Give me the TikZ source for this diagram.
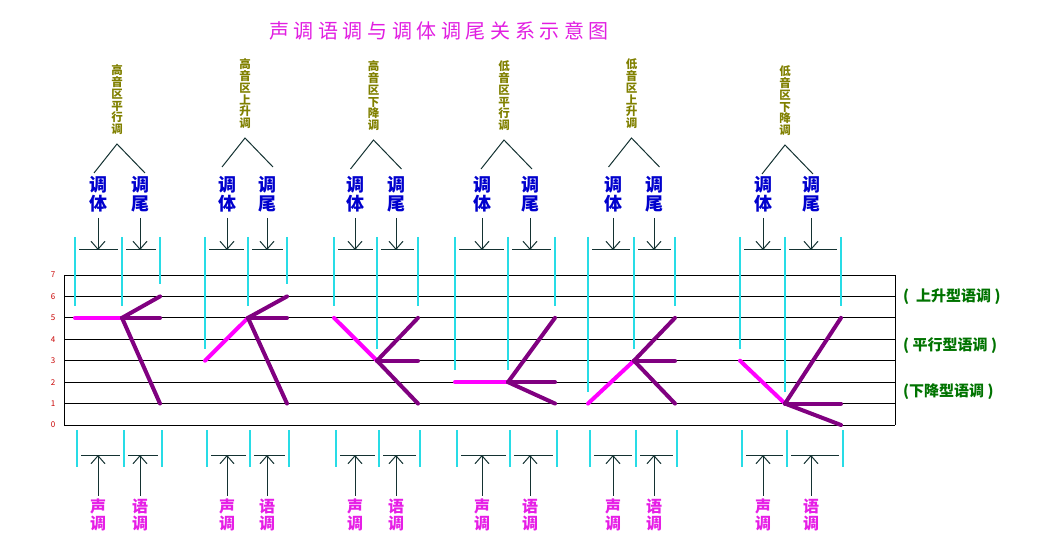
\documentclass[tikz,border=0pt]{standalone}
\usepackage{fontspec}
\setmainfont{Noto Sans CJK SC}
\usetikzlibrary{arrows.meta,positioning}
\definecolor{titlemag}{RGB}{225,30,225}
\definecolor{nameolive}{RGB}{128,128,0}
\definecolor{partblue}{RGB}{0,0,205}
\definecolor{tonemag}{RGB}{230,30,230}
\definecolor{typegreen}{RGB}{0,115,0}
\definecolor{levelred}{RGB}{200,0,0}
\definecolor{guidecyan}{RGB}{40,220,230}
\definecolor{darkslate}{RGB}{20,50,50}
\definecolor{tonepink}{RGB}{255,0,255}
\definecolor{tonepurple}{RGB}{128,0,128}

\begin{document}
\begin{tikzpicture}[x=1pt, y=-1pt,
        grid line/.style={draw=black, line width=0.9pt},
        guide line/.style={draw=guidecyan, line width=1.1pt},
        base line/.style={draw=darkslate, line width=1pt},
        pointer/.style={draw=darkslate, line width=1pt, -{Straight Barb[length=8pt,width=14pt]}},
        body tone/.style={draw=tonepink, line width=4pt, line cap=round},
        tail tone/.style={draw=tonepurple, line width=4pt, line cap=round},
        name label/.style={text=nameolive, font=\bfseries\fontsize{11.5}{11.8}\selectfont, align=center, inner sep=0pt},
        part label/.style={text=partblue, font=\bfseries\fontsize{18}{19}\selectfont, align=center, inner sep=0pt, outer sep=6pt},
        tone label/.style={text=tonemag, font=\bfseries\fontsize{16}{17}\selectfont, align=center, inner sep=0pt, outer sep=3pt},
        type label/.style={text=typegreen, font=\bfseries\fontsize{15}{15}\selectfont, anchor=west, inner sep=0pt},
        level label/.style={text=levelred, font=\fontsize{8}{8}\selectfont, inner sep=0pt}]
    \useasboundingbox (0,0) rectangle (1039,553);

    \node [text=titlemag, font=\fontsize{20}{20}\selectfont\addfontfeature{LetterSpace=23}] (title) at (439,31) {声调语调与调体调尾关系示意图};

    % pitch grid 0..7
    \foreach \k in {0,...,7} {
        \draw [grid line] (64,{425-21.43*\k}) -- (895,{425-21.43*\k});
        \node [level label] (lvl\k) at (53,{425-21.43*\k}) {\k};
    }
    \draw [grid line] (64,275) -- (64,425);
    \draw [grid line] (895,275) -- (895,425);

    \node [type label] (rising) at (903,297) {(\ \ 上升型语调\ )};
    \node [type label] (level) at (903,346) {(\ 平行型语调\ )};
    \node [type label] (falling) at (903,392) {(下降型语调\ )};

    % a/b/c: start, pivot, end columns; l/r: label columns; s/p: start and pivot pitch; e: end pitches
    \foreach \a/\b/\c/\l/\r/\ay/\s/\p/\ea/\eb/\ec/\nm [count=\i] in {
        75/122/160/98/140/144/5/5/6/5/1/高\\音\\区\\平\\行\\调,
        205/248/287/227/267/138/3/5/6/5/1/高\\音\\区\\上\\升\\调,
        334/377/418/355/396/140/5/3/5/3/1/高\\音\\区\\下\\降\\调,
        455/508/555/482/530/140/2/2/5/2/1/低\\音\\区\\平\\行\\调,
        588/634/675/613/654/138/1/3/5/3/1/低\\音\\区\\上\\升\\调,
        740/785/841/763/811/145/3/1/5/1/0/低\\音\\区\\下\\降\\调} {
        % name and bracket
        \coordinate (apex\i) at ({(\l+\r)/2-2},\ay);
        \node [name label, above=9pt of apex\i] (name\i) {\nm};
        \coordinate [below left=29pt and 23pt of apex\i] (legl\i);
        \coordinate [below right=29pt and 28pt of apex\i] (legr\i);
        \draw [base line] (legl\i) -- (apex\i) -- (legr\i);

        % body and tail
        \node [part label] (body\i) at (\l,194) {调\\体};
        \node [part label] (tail\i) at (\r,194) {调\\尾};
        \coordinate (bodyend\i) at (\l,250);
        \coordinate (tailend\i) at (\r,250);
        \draw [base line] ({\a+4},250) -- ({\b-4},250);
        \draw [base line] ({\b+4},250) -- ({\c-4},250);
        \path [pointer] (body\i) -- (bodyend\i);
        \path [pointer] (tail\i) -- (tailend\i);

        % guides
        \draw [guide line] (\a,237) -- (\a,{425-21.43*\s-12});
        \draw [guide line] (\b,237) -- (\b,{425-21.43*\p-12});
        \draw [guide line] (\c,237) -- (\c,{425-21.43*\ea-12});
        \draw [guide line] ({\a+2},430) -- ({\a+2},467);
        \draw [guide line] ({\b+2},430) -- ({\b+2},467);
        \draw [guide line] ({\c+2},430) -- ({\c+2},467);

        % tone contour
        \coordinate (start\i) at (\a,{425-21.43*\s});
        \coordinate (pivot\i) at (\b,{425-21.43*\p});
        \coordinate (hi\i) at (\c,{425-21.43*\ea});
        \coordinate (mid\i) at (\c,{425-21.43*\eb});
        \coordinate (lo\i) at (\c,{425-21.43*\ec});
        \draw [body tone] (start\i) -- (pivot\i);
        \draw [tail tone] (pivot\i) -- (hi\i);
        \draw [tail tone] (pivot\i) -- (mid\i);
        \draw [tail tone] (pivot\i) -- (lo\i);

        % tone and intonation
        \node [tone label] (sheng\i) at (\l,515) {声\\调};
        \node [tone label] (yu\i) at (\r,515) {语\\调};
        \coordinate (shengend\i) at (\l,455);
        \coordinate (yuend\i) at (\r,455);
        \draw [base line] ({\a+6},455) -- ({\b-2},455);
        \draw [base line] ({\b+6},455) -- ({\c-2},455);
        \path [pointer] (sheng\i) -- (shengend\i);
        \path [pointer] (yu\i) -- (yuend\i);
    }
\end{tikzpicture}
\end{document}
